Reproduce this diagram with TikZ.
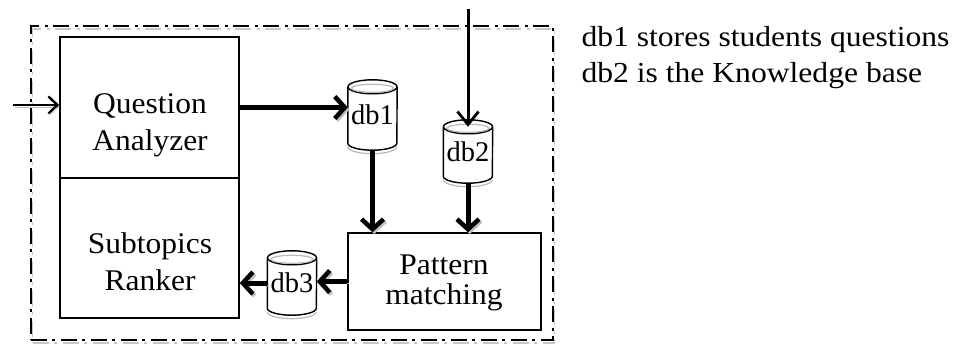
\documentclass[tikz,border=0pt]{standalone}
\usepackage{fontspec}
\setmainfont{Liberation Serif}[FakeStretch=1.05]
\newfontfamily\notefont{Liberation Serif}[FakeStretch=1.09]
\newfontfamily\dbfont{Liberation Serif}
\usetikzlibrary{arrows.meta,calc}

% cylinder-shaped store drawn around a named rectangular node
\newcommand\dbdraw[1]{%
  \draw[cylshade] ([yshift=3.5pt]#1.south west)
    arc[start angle=180,end angle=360,x radius=24.5pt,y radius=7pt];
  \draw[cylline] ([yshift=-7pt]#1.north west) -- ([yshift=7pt]#1.south west)
    arc[start angle=180,end angle=360,x radius=24.5pt,y radius=7pt]
    -- ([yshift=-7pt]#1.north east);
  \draw[cylline] ([yshift=-7pt]#1.north) ellipse[x radius=24.5pt,y radius=7pt];
  \draw[cylshade] ([yshift=-8.5pt]#1.north) ellipse[x radius=21pt,y radius=4pt];
}

\tikzset{
  blockbox/.style={draw, line width=1.6pt, inner sep=0pt},
  dbnode/.style={inner sep=0pt, minimum width=49pt, font=\dbfont\fontsize{28.5}{32}\selectfont},
  cylline/.style={draw, line width=1.4pt},
  cylshade/.style={draw=gray!55, line width=1.2pt},
  blocktext/.style={anchor=base, font=\fontsize{30}{34}\selectfont},
  notetext/.style={anchor=base west, font=\notefont\fontsize{29}{34}\selectfont},
  shadowed/.style={preaction={draw=gray!50, transform canvas={shift={(1.8pt,-1.8pt)}}}},
  bigflow/.style={line width=5pt, -{Straight Barb[length=10pt,width=22pt,line width=4.5pt]}, shadowed},
  thinflow/.style={line width=2.4pt, -{Straight Barb[length=9pt,width=17pt,line width=2.4pt]}},
  kbflow/.style={line width=3pt, -{Straight Barb[length=13pt,width=21pt,line width=2.8pt]}},
  frameline/.style={line width=1.8pt, dash pattern=on 16pt off 5pt on 3pt off 6pt},
}

\begin{document}
\begin{tikzpicture}[x=1pt,y=-1pt]
\useasboundingbox (0,0) rectangle (955,345);

% dash-dotted system boundary with its grey offset
\node[frameline, draw=gray!45, minimum width=522pt, minimum height=314pt] (frameshadow) at (293.5,186) {};
\node[frameline, draw, minimum width=522pt, minimum height=314pt] (frame) at (292,183) {};

% processing blocks
\node[blockbox, minimum width=179pt, minimum height=141pt] (qa) at (149.5,107.5) {};
\node[blockbox, minimum width=179pt, minimum height=140pt] (sr) at (149.5,248) {};
\node[blockbox, minimum width=193pt, minimum height=97pt, fill=white] (pm) at (444.5,281.5) {};

\node[blocktext] (qa1) at (150,113) {Question};
\node[blocktext] (qa2) at (150,150) {Analyzer};
\node[blocktext] (sr1) at (150,253) {Subtopics};
\node[blocktext] (sr2) at (150,290) {Ranker};
\node[blocktext] (pm1) at (444,274) {Pattern};
\node[blocktext] (pm2) at (444,304) {matching};

% data stores
\node[dbnode, minimum height=70pt] (db1) at (372.5,115) {};
\node[dbnode, minimum height=63pt] (db2) at (468,151.5) {};
\node[dbnode, minimum height=64pt] (db3) at (292,283) {};
\dbdraw{db1}
\dbdraw{db2}
\dbdraw{db3}
\node[dbnode] (db1t) at (db1) {db1};
\node[dbnode] (db2t) at (db2) {db2};
\node[dbnode] (db3t) at (db3) {db3};

% flows
\coordinate (inp) at (13,105);
\coordinate (kb) at (468,9);
\draw[thinflow, shadowed] (inp) -- (inp -| qa.west);
\draw[kbflow] (kb) -- ([yshift=-7pt]db2.north);
\draw[bigflow] (qa.east) -- (qa.east -| db1.west);
\draw[bigflow] (db1.south) -- (db1.south |- pm.north);
\draw[bigflow] (db2.south) -- (db2.south |- pm.north);
\draw[bigflow] (pm.west) -- (pm.west -| db3.east);
\draw[bigflow] (db3.west) -- (db3.west -| sr.east);

% legend
\node[notetext] (n1) at (578,47) {db1 stores students questions};
\node[notetext] (n2) at (578,82) {db2 is the Knowledge base};
\end{tikzpicture}
\end{document}
